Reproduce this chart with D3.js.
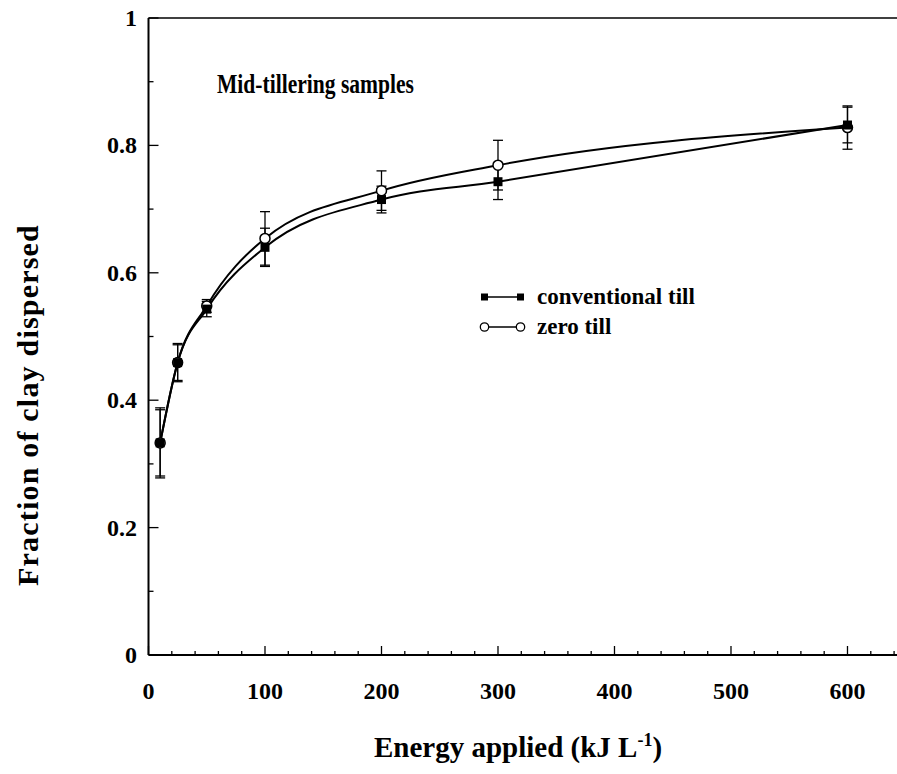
<!DOCTYPE html>
<html>
<head>
<meta charset="utf-8">
<script src="https://cdn.jsdelivr.net/npm/d3@7"></script>
<style>
  html, body { margin: 0; padding: 0; background: #fff; }
  svg { display: block; }
  text { font-family: "Liberation Serif", "DejaVu Serif", serif; font-weight: bold; fill: #000; }
</style>
</head>
<body>
<svg id="chart" width="897" height="774"></svg>
<script>
// ---- data ----
const energy = [10, 25, 50, 100, 200, 300, 600];
const conventional = [0.333, 0.459, 0.543, 0.640, 0.715, 0.743, 0.832];
const conventionalErr = [0.055, 0.030, 0.012, 0.030, 0.021, 0.028, 0.028];
const zeroTill = [0.333, 0.459, 0.548, 0.654, 0.729, 0.769, 0.828];
const zeroTillErr = [0.052, 0.028, 0.010, 0.042, 0.031, 0.039, 0.034];
const xTicks = [0, 100, 200, 300, 400, 500, 600];
const yTicks = [0, 0.2, 0.4, 0.6, 0.8, 1];
const yTickLabels = ["0", "0.2", "0.4", "0.6", "0.8", "1"];
const seriesNames = ["conventional till", "zero till"];

(function () {
const svg = d3.select("#chart");
const pL = 148.5, pR = 897, pT = 18, pB = 655;
const x = d3.scaleLinear().domain([0, 642.5]).range([pL, pR]);
const y = d3.scaleLinear().domain([0, 1]).range([pB, pT]);

// frame: left, top, bottom
svg.append("line").attr("x1", pL).attr("x2", pL).attr("y1", pT).attr("y2", pB)
  .attr("stroke", "#000").attr("stroke-width", 2);
svg.append("line").attr("x1", pL).attr("x2", pR).attr("y1", pT).attr("y2", pT)
  .attr("stroke", "#000").attr("stroke-width", 1.5);
svg.append("line").attr("x1", pL).attr("x2", pR).attr("y1", pB).attr("y2", pB)
  .attr("stroke", "#000").attr("stroke-width", 2);

// x ticks (inward)
const xMinor = d3.range(0, 641, 20);
svg.append("g").selectAll("line").data(xMinor).join("line")
  .attr("x1", d => x(d)).attr("x2", d => x(d))
  .attr("y1", pB).attr("y2", d => pB - (d % 100 === 0 ? 9 : 4))
  .attr("stroke", "#000").attr("stroke-width", 1.3);
svg.append("g").selectAll("text").data(xTicks).join("text")
  .attr("x", d => x(d)).attr("y", 699)
  .attr("text-anchor", "middle").attr("font-size", 24).text(d => d);

// y ticks (inward)
const yMinor = d3.range(0, 11).map(i => i / 10);
svg.append("g").selectAll("line").data(yMinor).join("line")
  .attr("x1", pL).attr("x2", (d, i) => pL + (i % 2 === 0 ? 10 : 5))
  .attr("y1", d => y(d)).attr("y2", d => y(d))
  .attr("stroke", "#000").attr("stroke-width", 1.3);
svg.append("g").selectAll("text").data(yTicks).join("text")
  .attr("x", 137).attr("y", d => y(d) + 8)
  .attr("text-anchor", "end").attr("font-size", 24).text((d, i) => yTickLabels[i]);

// axis titles
const xt = svg.append("text").attr("x", 518).attr("y", 757)
  .attr("text-anchor", "middle").attr("font-size", 29);
xt.append("tspan").text("Energy applied (kJ L");
xt.append("tspan").attr("dy", -11).attr("font-size", 18).text("-1");
xt.append("tspan").attr("dy", 11).text(")");

svg.append("text").attr("transform", "translate(38,405) rotate(-90)")
  .attr("text-anchor", "middle").attr("font-size", 30).attr("letter-spacing", 1.2)
  .text("Fraction of clay dispersed");

svg.append("text").attr("x", 217).attr("y", 93).attr("font-size", 28)
  .attr("textLength", 197).attr("lengthAdjust", "spacingAndGlyphs")
  .text("Mid-tillering samples");

// curves
const line = d3.line().x(d => x(d[0])).y(d => y(d[1])).curve(d3.curveMonotoneX);
const convPts = energy.map((e, i) => [e, conventional[i]]);
const zeroPts = energy.map((e, i) => [e, zeroTill[i]]);
[convPts, zeroPts].forEach(pts => {
  svg.append("path").attr("d", line(pts)).attr("fill", "none")
    .attr("stroke", "#000").attr("stroke-width", 2);
});

// error bars
function errBars(vals, errs) {
  const g = svg.append("g").attr("stroke", "#000").attr("stroke-width", 1.3);
  energy.forEach((e, i) => {
    const cx = x(e), y1 = y(vals[i] + errs[i]), y2 = y(vals[i] - errs[i]);
    g.append("line").attr("x1", cx).attr("x2", cx).attr("y1", y1).attr("y2", y2);
    g.append("line").attr("x1", cx - 5).attr("x2", cx + 5).attr("y1", y1).attr("y2", y1);
    g.append("line").attr("x1", cx - 5).attr("x2", cx + 5).attr("y1", y2).attr("y2", y2);
  });
}
errBars(conventional, conventionalErr);
errBars(zeroTill, zeroTillErr);

// markers
svg.append("g").selectAll("circle").data(zeroPts).join("circle")
  .attr("cx", d => x(d[0])).attr("cy", d => y(d[1])).attr("r", 5)
  .attr("fill", "#fff").attr("stroke", "#000").attr("stroke-width", 1.5);
svg.append("g").selectAll("rect").data(convPts).join("rect")
  .attr("x", d => x(d[0]) - 4.5).attr("y", d => y(d[1]) - 4.5)
  .attr("width", 9).attr("height", 9).attr("fill", "#000");

// legend
const lg = svg.append("g");
const ly1 = 297, ly2 = 327;
lg.append("line").attr("x1", 485).attr("x2", 520).attr("y1", ly1).attr("y2", ly1)
  .attr("stroke", "#000").attr("stroke-width", 1.5);
lg.append("rect").attr("x", 481).attr("y", ly1 - 3.5).attr("width", 7).attr("height", 7).attr("fill", "#000");
lg.append("rect").attr("x", 517).attr("y", ly1 - 3.5).attr("width", 7).attr("height", 7).attr("fill", "#000");
lg.append("text").attr("x", 537).attr("y", ly1 + 7).attr("font-size", 23).text(seriesNames[0]);
lg.append("line").attr("x1", 489).attr("x2", 516).attr("y1", ly2).attr("y2", ly2)
  .attr("stroke", "#000").attr("stroke-width", 1.5);
lg.append("circle").attr("cx", 484.5).attr("cy", ly2).attr("r", 4.2).attr("fill", "#fff").attr("stroke", "#000").attr("stroke-width", 1.3);
lg.append("circle").attr("cx", 520.5).attr("cy", ly2).attr("r", 4.2).attr("fill", "#fff").attr("stroke", "#000").attr("stroke-width", 1.3);
lg.append("text").attr("x", 537).attr("y", ly2 + 7).attr("font-size", 23).text(seriesNames[1]);
})();
</script>
</body>
</html>
